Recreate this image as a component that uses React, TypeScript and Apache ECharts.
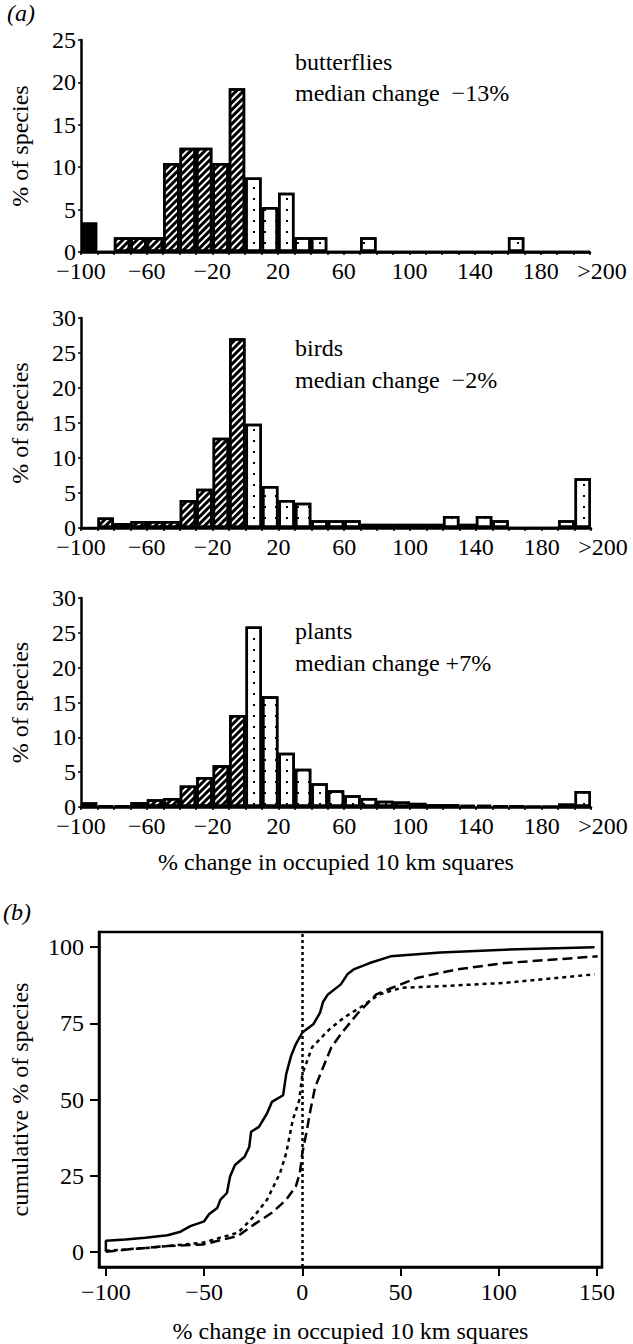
import React, { useEffect, useRef } from "react";
import * as echarts from "echarts";

// ---------- data ----------
// histogram bins (start of each 10% bin; the last one is ">200")
const binStarts = [-100, -90, -80, -70, -60, -50, -40, -30, -20, -10, 0, 10, 20, 30, 40, 50, 60, 70, 80, 90, 100, 110, 120, 130, 140, 150, 160, 170, 180, 190, 200];
const binEdges = [-100, -90, -80, -70, -60, -50, -40, -30, -20, -10, 0, 10, 20, 30, 40, 50, 60, 70, 80, 90, 100, 110, 120, 130, 140, 150, 160, 170, 180, 190, 200, 210];
const histTickLabels = [-100, -60, -20, 20, 60, 100, 140, 180];
const overflowLabelAt = [210];
const overflowLabel = ">200";

const butterflies = [3.5, 0, 1.75, 1.75, 1.75, 10.5, 12.3, 12.3, 10.5, 19.3, 8.8, 5.3, 7.0, 1.75, 1.75, 0, 0, 1.75, 0, 0, 0, 0, 0, 0, 0, 0, 1.75, 0, 0, 0, 0];
const birds = [0, 1.5, 0.7, 1.0, 1.0, 1.0, 4.0, 5.6, 12.9, 27.1, 14.9, 6.0, 4.0, 3.6, 1.1, 1.1, 1.1, 0.6, 0.6, 0.6, 0.6, 0.6, 1.7, 0.6, 1.7, 1.1, 0, 0, 0, 1.1, 7.1];
const plants = [0.7, 0.2, 0.2, 0.7, 1.1, 1.3, 3.1, 4.3, 6.0, 13.2, 25.9, 15.9, 7.8, 5.5, 3.4, 2.4, 1.7, 1.3, 0.9, 0.8, 0.6, 0.4, 0.4, 0.3, 0.3, 0.2, 0.2, 0.1, 0.1, 0.5, 2.3];

const groupNames = ["butterflies", "birds", "plants"];
const medianTexts = ["median change  \u221213%", "median change  \u22122%", "median change +7%"];

// cumulative curves (panel b)
const butterflyCdfX = [-100, -100, -90, -80, -68.6, -62, -57, -50, -47.4, -43.3, -41.7, -38.4, -36.8, -34.3, -29.4, -27, -26.1, -22.1, -18, -15.5, -9.8, -8.2, -5.7, -3.3, 0, 5.7, 9.0, 10.5, 13, 19.6, 22.9, 26.1, 34.3, 44.9, 70.3, 102.9, 148.7];
const butterflyCdfY = [0, 3.6, 4.0, 4.6, 5.4, 6.6, 8.4, 10.0, 12.4, 14.4, 17.1, 19.3, 24.7, 28.5, 31.2, 34.5, 39.4, 41.0, 45.4, 49.2, 51.4, 58.4, 64.4, 68.2, 72.0, 74.8, 78.5, 82.0, 84.5, 87.8, 91.1, 92.7, 94.8, 97.0, 98.3, 99.2, 100];
const birdCdfX = [-100, -76.8, -50.6, -32.7, -24.5, -18, -11.4, -8.2, -4.9, -1.6, 0, 2.5, 4.9, 8.2, 11.4, 13.9, 21.2, 29.4, 39.2, 50.6, 70.3, 102.9, 148.7];
const birdCdfY = [0.3, 1.4, 3.0, 6.3, 11.7, 17.1, 25.8, 32.4, 43.2, 49.7, 58.4, 62.8, 67.1, 69.3, 71.5, 73.1, 76.9, 80.2, 84.5, 86.7, 87.2, 88.3, 91.1];
const plantCdfX = [-100, -88, -68.6, -50.6, -32.7, -24.5, -15.5, -8.2, -3.3, -1.3, 0, 2.0, 4.1, 6.5, 10.6, 14.7, 19.6, 27.8, 37.6, 45.7, 58.8, 78.4, 102.9, 150.3];
const plantCdfY = [0, 0.8, 1.9, 2.4, 5.2, 9.0, 12.8, 17.1, 21.5, 25.8, 32.4, 38.9, 46.5, 54.1, 60.6, 67.1, 71.5, 78.0, 84.5, 86.7, 90.0, 92.7, 94.8, 97.0];
const cdfTicksX = [-100, -50, 0, 50, 100, 150];
const cdfTicksY = [0, 25, 50, 75, 100];

// ---------- styling ----------
const FONT = "Liberation Serif";
const FS = 24;

const hatchDecal = {
  symbol: "rect",
  symbolSize: 1,
  color: "#000",
  dashArrayX: [1, 0],
  dashArrayY: [3, 2],
  rotation: -Math.PI / 4,
};
const dotDecal = {
  symbol: "rect",
  symbolSize: 1,
  color: "#000",
  dashArrayX: [2, 9],
  dashArrayY: [2, 9],
  rotation: 0,
};

const fmtNum = (v: number) => (v < 0 ? "\u2212" + Math.abs(v) : String(v));

function histData(vals: number[]) {
  return vals.map((v, i) => {
    const s = binStarts[i];
    const itemStyle =
      s === -100
        ? { color: "#000" }
        : s < 0
        ? { color: "#fff", decal: hatchDecal }
        : { color: "#fff", decal: dotDecal };
    return { value: v, itemStyle };
  });
}

const grids = [
  { left: 75, top: 40, width: 515, height: 212 },
  { left: 76, top: 318, width: 515, height: 210 },
  { left: 76, top: 598, width: 515, height: 209 },
];
const yMaxes = [25, 30, 30];
const textCenters = [
  [61.5, 93],
  [347.5, 379.5],
  [630.5, 662.5],
];

function textEl(x: number, y: number, text: string, italic = false) {
  return {
    type: "text",
    x,
    y,
    style: {
      text,
      fontFamily: FONT,
      fontSize: FS,
      fontStyle: italic ? "italic" : "normal",
      fill: "#000",
      textVerticalAlign: "middle",
      verticalAlign: "middle",
    },
  };
}

export default function App() {
  const ref = useRef<HTMLDivElement>(null);

  useEffect(() => {
    if (!ref.current) return;
    const chart = echarts.init(ref.current, undefined, { renderer: "svg" });

    const xAxes: any[] = [];
    const yAxes: any[] = [];
    const series: any[] = [];
    const graphics: any[] = [];

    const histSets = [butterflies, birds, plants];
    histSets.forEach((vals, g) => {
      // band axis that positions the bars
      xAxes.push({
        type: "category",
        gridIndex: g,
        position: "bottom",
        data: binStarts.map(String),
        show: false,
      });
      // visible value axis (line, bin ticks, labels)
      xAxes.push({
        type: "value",
        gridIndex: g,
        position: "bottom",
        min: -100,
        max: 210,
        splitLine: { show: false },
        axisLine: { show: true, onZero: false, lineStyle: { color: "#000", width: 2.5 } },
        axisTick: {
          show: true,
          customValues: binEdges,
          length: 3,
          lineStyle: { color: "#000", width: 1.5 },
        },
        axisLabel: {
          customValues: histTickLabels,
          color: "#000",
          fontFamily: FONT,
          fontSize: FS,
          lineHeight: 18,
          margin: 10,
          formatter: (v: number) => fmtNum(v),
        },
        ...(g === 2
          ? {
              name: "% change in occupied 10 km squares",
              nameLocation: "middle",
              nameGap: 43,
              nameTextStyle: { color: "#000", fontFamily: FONT, fontSize: FS },
            }
          : {}),
      });
      // label-only axis for the open-ended ">200" bin
      xAxes.push({
        type: "value",
        gridIndex: g,
        position: "bottom",
        min: -100,
        max: 210,
        splitLine: { show: false },
        axisLine: { show: false, onZero: false },
        axisTick: { show: false },
        axisLabel: {
          customValues: overflowLabelAt,
          color: "#000",
          fontFamily: FONT,
          fontSize: FS,
          lineHeight: 18,
          margin: 10,
          formatter: () => "{r|" + overflowLabel + "}",
          rich: {
            r: { fontFamily: FONT, fontSize: FS, lineHeight: 18, color: "#000", padding: [0, 0, 0, 24] },
          },
        },
      });
      yAxes.push({
        type: "value",
        gridIndex: g,
        position: "left",
        min: 0,
        max: yMaxes[g],
        interval: 5,
        splitLine: { show: false },
        axisLine: { show: true, onZero: false, lineStyle: { color: "#000", width: 2.5 } },
        axisTick: { show: true, length: 3, lineStyle: { color: "#000", width: 1.5 } },
        axisLabel: { color: "#000", fontFamily: FONT, fontSize: FS, lineHeight: 16, margin: 5 },
        name: "% of species",
        nameLocation: "middle",
        nameRotate: 90,
        nameGap: 49,
        nameTextStyle: { color: "#000", fontFamily: FONT, fontSize: FS },
      });
      series.push({
        type: "bar",
        xAxisIndex: g * 3,
        yAxisIndex: g,
        barCategoryGap: "0%",
        barGap: "0%",
        itemStyle: { borderColor: "#000", borderWidth: 2.5 },
        data: histData(vals),
        silent: true,
      });
      graphics.push(textEl(295, textCenters[g][0], groupNames[g]));
      graphics.push(textEl(295, textCenters[g][1], medianTexts[g]));
    });

    // panel b
    xAxes.push({
      type: "value",
      gridIndex: 3,
      position: "bottom",
      min: -103.5,
      max: 152.5,
      splitLine: { show: false },
      axisLine: { show: true, onZero: false, lineStyle: { color: "#000", width: 2.5 } },
      axisTick: {
        show: true,
        customValues: cdfTicksX,
        length: 9,
        lineStyle: { color: "#000", width: 2 },
      },
      axisLabel: {
        customValues: cdfTicksX,
        color: "#000",
        fontFamily: FONT,
        fontSize: FS,
        margin: 13,
        formatter: (v: number) => fmtNum(v),
      },
      name: "% change in occupied 10 km squares",
      nameLocation: "middle",
      nameGap: 52,
      nameTextStyle: { color: "#000", fontFamily: FONT, fontSize: FS },
    });
    yAxes.push({
      type: "value",
      gridIndex: 3,
      position: "left",
      min: -5,
      max: 105,
      splitLine: { show: false },
      axisLine: { show: true, onZero: false, lineStyle: { color: "#000", width: 2.5 } },
      axisTick: {
        show: true,
        customValues: cdfTicksY,
        length: 9,
        lineStyle: { color: "#000", width: 2 },
      },
      axisLabel: {
        customValues: cdfTicksY,
        color: "#000",
        fontFamily: FONT,
        fontSize: FS,
        margin: 15,
      },
      name: "cumulative % of species",
      nameLocation: "middle",
      nameRotate: 90,
      nameGap: 67,
      nameTextStyle: { color: "#000", fontFamily: FONT, fontSize: FS },
    });

    const cdfXAxisIndex = xAxes.length - 1;
    const cdfs = [
      { x: butterflyCdfX, y: butterflyCdfY, type: "solid" as any, name: "butterflies" },
      { x: birdCdfX, y: birdCdfY, type: [4, 4], name: "birds" },
      { x: plantCdfX, y: plantCdfY, type: [10, 5], name: "plants" },
    ];
    cdfs.forEach((c, k) => {
      series.push({
        type: "line",
        name: c.name,
        xAxisIndex: cdfXAxisIndex,
        yAxisIndex: 3,
        symbol: "none",
        silent: true,
        lineStyle: { color: "#000", width: 2.5, type: c.type },
        data: c.x.map((xv, i) => [xv, c.y[i]]),
        ...(k === 0
          ? {
              markLine: {
                silent: true,
                symbol: ["none", "none"],
                label: { show: false },
                lineStyle: { color: "#000", width: 2.5, type: [3, 3] },
                data: [{ xAxis: 0 }],
              },
            }
          : {}),
      });
    });

    graphics.push(textEl(7, 13, "(a)", true));
    graphics.push(textEl(3, 912, "(b)", true));

    chart.setOption({
      animation: false,
      backgroundColor: "#fff",
      textStyle: { fontFamily: FONT },
      grid: [
        ...grids,
        {
          left: 79,
          top: 932,
          width: 523,
          height: 336,
          show: true,
          borderColor: "#000",
          borderWidth: 2.5,
          backgroundColor: "transparent",
        },
      ],
      xAxis: xAxes,
      yAxis: yAxes,
      series,
      graphic: graphics,
    });

    return () => chart.dispose();
  }, []);

  return (
    <div
      ref={ref}
      style={{ position: "absolute", left: 0, top: 0, width: 633, height: 1344, background: "#fff" }}
    />
  );
}
